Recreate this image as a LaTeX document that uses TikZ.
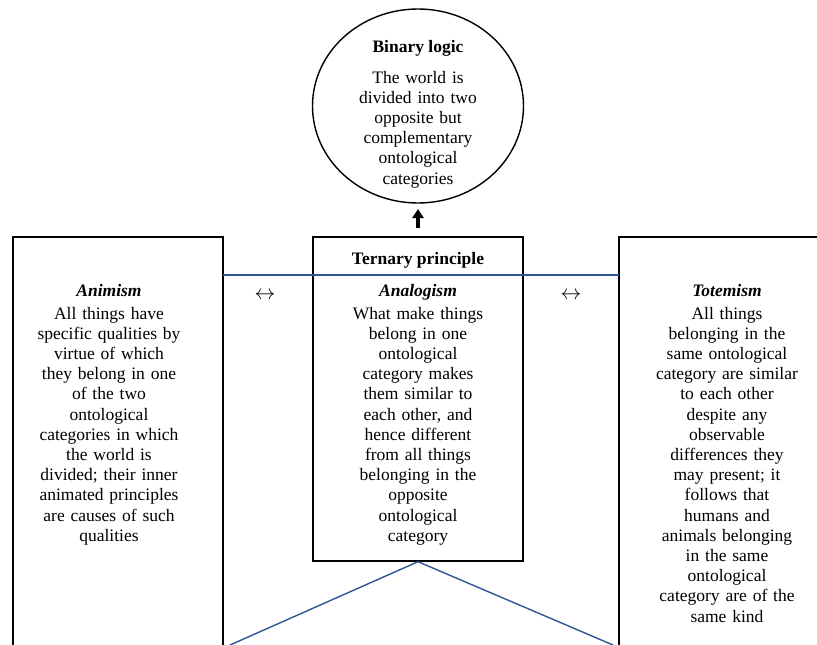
\documentclass[tikz,border=0pt]{standalone}
\usepackage{fontspec}
\setmainfont{Liberation Serif}
\usetikzlibrary{arrows.meta,shapes.geometric}
\definecolor{linkblue}{RGB}{47,85,151}
\tikzset{
  box/.style={draw,line width=1.4pt},
  bodytxt/.style={font=\fontsize{17.5}{20.2}\selectfont, align=center, text width=205pt, inner sep=0pt, anchor=base},
  ttl/.style={font=\fontsize{17.5}{20.2}\selectfont\bfseries, inner sep=0pt, anchor=base},
  ittl/.style={font=\fontsize{17.5}{20.2}\selectfont\bfseries\itshape, inner sep=0pt, anchor=base},
  link/.style={draw=linkblue, line width=1.4pt},
  sym/.style={font=\fontsize{21}{22}\selectfont, inner sep=0pt, anchor=base}
}
\begin{document}
\begin{tikzpicture}[x=1pt,y=-1pt]
\useasboundingbox (0,0) rectangle (817,645);
\clip (0,0) rectangle (817,645);
% frames
\node[box, ellipse, minimum width=211pt, minimum height=194pt] (binary) at (418,106) {};
\path[box] (13,237) rectangle (223,720);
\node[inner sep=0pt, minimum width=210pt, minimum height=483pt] (leftbox) at (118,478.5) {};
\node[box, minimum width=210pt, minimum height=324pt, inner sep=0pt] (midbox) at (418,399) {};
\path[box] (619,237) rectangle (835,720);
\node[inner sep=0pt, minimum width=216pt, minimum height=483pt] (rightbox) at (727,478.5) {};
% circle text
\node[ttl] (binttl) at (418,52) {Binary logic};
\node[bodytxt] (bintxt) at (418,83) {The world is\\divided into two\\opposite but\\complementary\\ontological\\categories};
% arrow
\coordinate (arrtail) at (418,228);
\draw[line width=3.5pt, -{Triangle[width=11pt,length=9pt]}] (arrtail) -- (binary.south |- 0,209);
% middle
\node[ttl] (ternttl) at (418,264) {Ternary principle};
\node[ittl] (anattl) at (418,296) {Analogism};
\node[bodytxt] (anatxt) at (418,319) {What make things\\belong in one\\ontological\\category makes\\them similar to\\each other, and\\hence different\\from all things\\belonging in the\\opposite\\ontological\\category};
% left
\node[ittl] (anittl) at (109,296) {Animism};
\node[bodytxt] (anitxt) at (109,319) {All things have\\specific qualities by\\virtue of which\\they belong in one\\of the two\\ontological\\categories in which\\the world is\\divided; their inner\\animated principles\\are causes of such\\qualities};
% right
\node[ittl] (tottl) at (727,296) {Totemism};
\node[bodytxt] (tottxt) at (727,319) {All things\\belonging in the\\same ontological\\category are similar\\to each other\\despite any\\observable\\differences they\\may present; it\\follows that\\humans and\\animals belonging\\in the same\\ontological\\category are of the\\same kind};
% double arrows
\node[sym] (lr1) at (265,299) {$\leftrightarrow$};
\node[sym] (lr2) at (571,299) {$\leftrightarrow$};
% blue connectors
\coordinate (hl) at (223,275);
\coordinate (hr) at (619,275);
\draw[link] (hl) -- (hr);
\coordinate (dl) at (230,645);
\coordinate (dr) at (613,645);
\draw[link] (dl) -- (midbox.south) -- (dr);
\end{tikzpicture}
\end{document}
